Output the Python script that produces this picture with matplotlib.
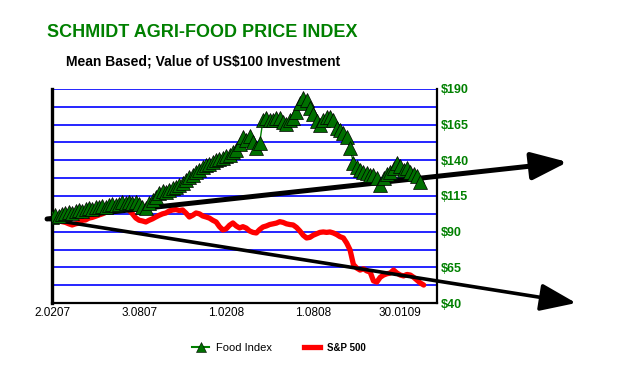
import matplotlib
matplotlib.use("Agg")
import matplotlib.pyplot as plt
from matplotlib.lines import Line2D

plt.rcParams['font.family'] = ['Liberation Sans', 'DejaVu Sans']

# weekly values, week 0 = 2 Feb 2007
food_index = [
    100.3, 101.5, 101.0, 102.5, 103.0, 103.8, 103.2, 104.5, 105.0, 104.6,
    105.9, 106.3, 105.8, 107.0, 107.6, 108.0, 107.4, 108.5, 109.2, 108.7,
    109.4, 110.5, 109.8, 111.0, 110.2, 110.8, 109.5, 107.3, 106.5, 110.0,
    112.2, 114.5, 117.1, 118.5, 117.8, 119.2, 120.5, 121.3, 122.7, 124.0,
    126.2, 128.0, 130.0, 131.8, 133.5, 135.3, 136.8, 137.5, 138.8, 140.0,
    140.9, 141.5, 143.0, 143.7, 145.5, 147.3, 151.5, 156.4, 154.3, 157.1,
    152.9, 148.7, 152.2, 168.3, 169.7, 168.5, 168.3, 170.0, 169.7, 167.0,
    165.5, 168.0, 169.7, 173.9, 180.2, 183.7, 182.3, 176.7, 172.5, 167.6,
    164.8, 168.3, 170.4, 170.4, 168.3, 162.7, 161.3, 159.2, 156.4, 148.7,
    138.1, 135.3, 133.2, 131.8, 131.1, 129.7, 129.7, 127.6, 122.7, 127.6,
    130.4, 131.8, 134.6, 138.1, 136.0, 133.2, 134.6, 131.8, 130.4, 129.0,
    124.8,
]
sp500 = [
    100.0, 99.0, 98.0, 97.0, 96.5, 95.5, 94.7, 95.5, 96.0, 98.0,
    98.2, 99.5, 100.0, 100.8, 101.7, 102.5, 103.5, 104.5, 105.2, 104.5,
    105.5, 106.0, 105.9, 105.0, 102.5, 99.6, 98.0, 97.5, 96.8, 98.0,
    99.0, 100.3, 101.5, 102.5, 103.1, 104.5, 105.2, 105.5, 104.8, 105.2,
    103.0, 100.3, 101.5, 103.1, 102.5, 101.0, 100.3, 99.5, 98.0, 96.8,
    93.5, 91.2, 92.0, 94.5, 96.1, 94.0, 92.6, 93.5, 92.5, 90.5,
    89.5, 89.1, 91.5, 93.3, 94.0, 95.0, 95.5, 96.0, 97.0, 96.5,
    95.5, 95.0, 94.7, 93.0, 90.5, 87.5, 85.6, 86.0, 87.5, 88.5,
    89.5, 89.8, 89.5, 89.8, 89.1, 88.0, 86.5, 85.6, 82.0, 77.2,
    67.0, 64.5, 63.1, 64.0, 62.5, 61.7, 55.5, 54.7, 58.0, 59.6,
    60.5, 61.0, 63.1, 61.0, 59.6, 59.0, 60.0, 59.6, 58.0, 56.0,
    54.0, 52.6,
]
tick_weeks = [0, 26, 52, 78, 104]
tick_labels = ['2.0207', '3.0807', '1.0208', '1.0808', '30.0109']
y_ticks = [40, 65, 90, 115, 140, 165, 190]
grid_levels = [40 + 12.5 * i for i in range(13)]
trend_start = (-1.5, 98.9)
trend_up_end = (154, 138.8)
trend_down_end = (156.5, 40.0)

fig = plt.figure(figsize=(6.2, 3.92), dpi=100)
ax = fig.add_axes([0.084, 0.227, 0.621, 0.546])

for g in grid_levels:
    ax.axhline(g, color='#0000ff', lw=1.2, zorder=1)

weeks_f = list(range(len(food_index)))
weeks_s = list(range(len(sp500)))
ax.plot(weeks_s, sp500, color='#ff0000', lw=3.8, solid_capstyle='round', zorder=2)
ax.plot(weeks_f, food_index, color='#008000', lw=1, marker='^', ms=10,
        mfc='#007000', mec='black', mew=0.5, zorder=4)

for end, lw in [(trend_up_end, 3.6), (trend_down_end, 2.6)]:
    ax.annotate('', xy=end, xytext=trend_start, annotation_clip=False,
                arrowprops=dict(arrowstyle='-|>,head_length=1.1,head_width=0.42',
                                mutation_scale=20, lw=lw, color='black',
                                shrinkA=0, shrinkB=0),
                zorder=3)

ax.set_xlim(0, 115)
ax.set_ylim(40, 190)
ax.set_xticks(tick_weeks)
ax.set_xticklabels(tick_labels, fontsize=8.5)
ax.yaxis.tick_right()
ax.set_yticks(y_ticks)
ax.set_yticklabels(['$%d' % v for v in y_ticks], color='#008000',
                   fontsize=9, fontweight='bold')
ax.tick_params(length=0, pad=3)
ax.spines['top'].set_visible(False)
ax.spines['left'].set_linewidth(2.4)
ax.spines['bottom'].set_linewidth(1.6)
ax.spines['right'].set_linewidth(1.6)

fig.text(0.327, 0.918, 'SCHMIDT AGRI-FOOD PRICE INDEX', color='#008000',
         fontsize=13, fontweight='bold', ha='center', va='center')
fig.text(0.327, 0.842, 'Mean Based; Value of US$100 Investment', color='black',
         fontsize=10, fontweight='bold', ha='center', va='center')

handles = [Line2D([], [], color='#008000', lw=1.5, marker='^', ms=7,
                  mfc='#007000', mec='black', mew=0.4),
           Line2D([], [], color='#ff0000', lw=3.8)]
leg = fig.legend(handles, ['Food Index', 'S&P 500'], loc='center',
                 bbox_to_anchor=(0.45, 0.112), ncol=2, frameon=False,
                 fontsize=8, handlelength=1.5, handletextpad=0.6,
                 columnspacing=2.9)
leg.get_texts()[1].set_fontsize(7)
leg.get_texts()[1].set_fontweight('bold')

fig.savefig('out.png', dpi=100)
